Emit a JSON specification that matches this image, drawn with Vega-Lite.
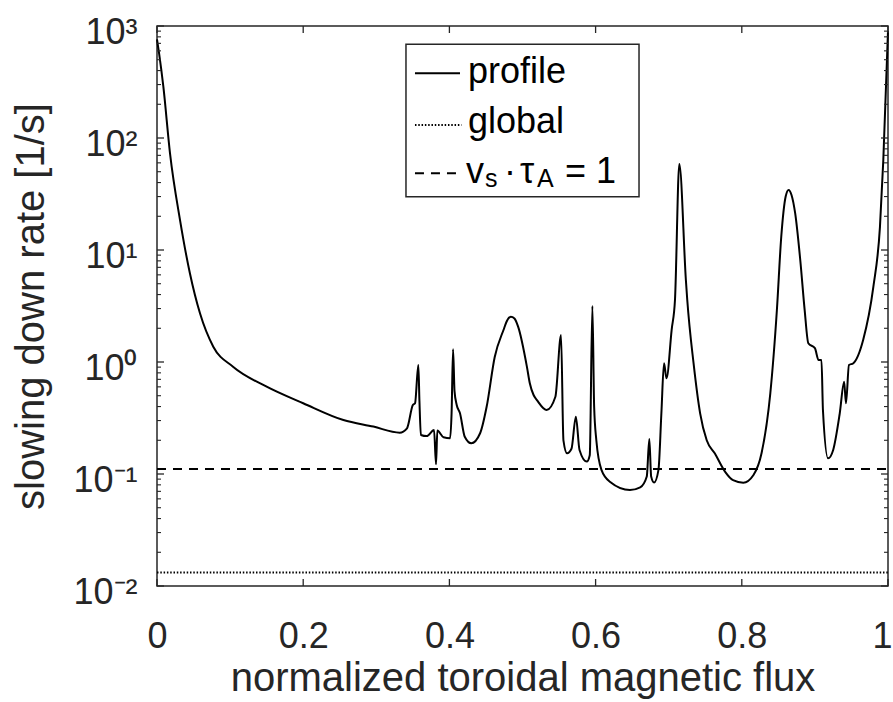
{
  "$schema": "https://vega.github.io/schema/vega-lite/v6.json",
  "width": 731,
  "height": 560,
  "autosize": {"type": "none"},
  "padding": {"left": 157, "top": 26, "right": 5, "bottom": 116},
  "config": {
    "view": {"stroke": "#262626", "strokeWidth": 1.5},
    "font": "Liberation Sans",
    "axis": {
      "grid": false,
      "domain": false,
      "labelFont": "Liberation Sans",
      "titleFont": "Liberation Sans",
      "labelColor": "#262626",
      "titleColor": "#262626",
      "titleFontWeight": "normal"
    }
  },
  "datasets": {
    "profile": [
      {"flux": 0.0, "rate": 760},
      {"flux": 0.003, "rate": 560},
      {"flux": 0.0087, "rate": 287},
      {"flux": 0.0178, "rate": 73},
      {"flux": 0.0315, "rate": 18.5},
      {"flux": 0.045, "rate": 6.2},
      {"flux": 0.0588, "rate": 2.72},
      {"flux": 0.077, "rate": 1.37},
      {"flux": 0.104, "rate": 0.908},
      {"flux": 0.15, "rate": 0.602},
      {"flux": 0.2, "rate": 0.428},
      {"flux": 0.255, "rate": 0.303},
      {"flux": 0.296, "rate": 0.265},
      {"flux": 0.332, "rate": 0.234},
      {"flux": 0.342, "rate": 0.256},
      {"flux": 0.35, "rate": 0.413},
      {"flux": 0.353, "rate": 0.428},
      {"flux": 0.3575, "rate": 0.94},
      {"flux": 0.359, "rate": 0.45},
      {"flux": 0.361, "rate": 0.223},
      {"flux": 0.369, "rate": 0.218},
      {"flux": 0.379, "rate": 0.247},
      {"flux": 0.3817, "rate": 0.122},
      {"flux": 0.3835, "rate": 0.244},
      {"flux": 0.392, "rate": 0.213},
      {"flux": 0.401, "rate": 0.209},
      {"flux": 0.403, "rate": 0.35},
      {"flux": 0.405, "rate": 1.3},
      {"flux": 0.407, "rate": 0.55},
      {"flux": 0.41, "rate": 0.413},
      {"flux": 0.4145, "rate": 0.348},
      {"flux": 0.421, "rate": 0.215},
      {"flux": 0.43, "rate": 0.188},
      {"flux": 0.442, "rate": 0.231},
      {"flux": 0.451, "rate": 0.4},
      {"flux": 0.462, "rate": 1.11},
      {"flux": 0.474, "rate": 1.93},
      {"flux": 0.479, "rate": 2.35},
      {"flux": 0.484, "rate": 2.54},
      {"flux": 0.489, "rate": 2.45},
      {"flux": 0.494, "rate": 2.07},
      {"flux": 0.506, "rate": 0.91},
      {"flux": 0.51, "rate": 0.646},
      {"flux": 0.515, "rate": 0.51},
      {"flux": 0.52, "rate": 0.455},
      {"flux": 0.533, "rate": 0.373},
      {"flux": 0.545, "rate": 0.49},
      {"flux": 0.5527, "rate": 1.74},
      {"flux": 0.556, "rate": 0.2},
      {"flux": 0.561, "rate": 0.153},
      {"flux": 0.567, "rate": 0.168},
      {"flux": 0.573, "rate": 0.325},
      {"flux": 0.578, "rate": 0.164},
      {"flux": 0.588, "rate": 0.129},
      {"flux": 0.592, "rate": 0.147},
      {"flux": 0.5956, "rate": 3.16},
      {"flux": 0.598, "rate": 0.4},
      {"flux": 0.601, "rate": 0.2},
      {"flux": 0.608, "rate": 0.109},
      {"flux": 0.62, "rate": 0.085},
      {"flux": 0.647, "rate": 0.072},
      {"flux": 0.661, "rate": 0.076},
      {"flux": 0.67, "rate": 0.095},
      {"flux": 0.6735, "rate": 0.205},
      {"flux": 0.676, "rate": 0.095},
      {"flux": 0.68, "rate": 0.084},
      {"flux": 0.686, "rate": 0.109},
      {"flux": 0.69, "rate": 0.35},
      {"flux": 0.6936, "rate": 0.975},
      {"flux": 0.697, "rate": 0.715},
      {"flux": 0.704, "rate": 1.93},
      {"flux": 0.7086, "rate": 3.6},
      {"flux": 0.7145, "rate": 58.6},
      {"flux": 0.7235, "rate": 5.4},
      {"flux": 0.7254, "rate": 3.58},
      {"flux": 0.734, "rate": 0.975},
      {"flux": 0.743, "rate": 0.348},
      {"flux": 0.752, "rate": 0.2},
      {"flux": 0.763, "rate": 0.153},
      {"flux": 0.777, "rate": 0.105},
      {"flux": 0.788, "rate": 0.088},
      {"flux": 0.802, "rate": 0.0836},
      {"flux": 0.816, "rate": 0.098},
      {"flux": 0.827, "rate": 0.153},
      {"flux": 0.839, "rate": 0.525},
      {"flux": 0.848, "rate": 2.91},
      {"flux": 0.854, "rate": 13.2},
      {"flux": 0.86, "rate": 30},
      {"flux": 0.864, "rate": 34.4},
      {"flux": 0.868, "rate": 31},
      {"flux": 0.873, "rate": 21.3},
      {"flux": 0.88, "rate": 8.1},
      {"flux": 0.886, "rate": 2.91},
      {"flux": 0.891, "rate": 1.47},
      {"flux": 0.9, "rate": 1.33},
      {"flux": 0.905, "rate": 1.04},
      {"flux": 0.909, "rate": 1.04},
      {"flux": 0.911, "rate": 0.373},
      {"flux": 0.918, "rate": 0.138},
      {"flux": 0.925, "rate": 0.164},
      {"flux": 0.934, "rate": 0.348},
      {"flux": 0.94, "rate": 0.667},
      {"flux": 0.9425, "rate": 0.428},
      {"flux": 0.9466, "rate": 0.94},
      {"flux": 0.9526, "rate": 0.975},
      {"flux": 0.966, "rate": 1.57},
      {"flux": 0.98, "rate": 4.7},
      {"flux": 0.989, "rate": 16.1},
      {"flux": 0.9936, "rate": 64},
      {"flux": 1.0, "rate": 900}
    ],
    "levels": [
      {"series": "global", "rate": 0.0132},
      {"series": "v_s τ_A = 1", "rate": 0.111}
    ],
    "ymajor": [
      {"rate": 0.01}, {"rate": 0.1}, {"rate": 1}, {"rate": 10}, {"rate": 100}, {"rate": 1000}
    ],
    "yminor": [
      {"rate": 0.02}, {"rate": 0.03}, {"rate": 0.04}, {"rate": 0.05}, {"rate": 0.06}, {"rate": 0.07}, {"rate": 0.08}, {"rate": 0.09},
      {"rate": 0.2}, {"rate": 0.3}, {"rate": 0.4}, {"rate": 0.5}, {"rate": 0.6}, {"rate": 0.7}, {"rate": 0.8}, {"rate": 0.9},
      {"rate": 2}, {"rate": 3}, {"rate": 4}, {"rate": 5}, {"rate": 6}, {"rate": 7}, {"rate": 8}, {"rate": 9},
      {"rate": 20}, {"rate": 30}, {"rate": 40}, {"rate": 50}, {"rate": 60}, {"rate": 70}, {"rate": 80}, {"rate": 90},
      {"rate": 200}, {"rate": 300}, {"rate": 400}, {"rate": 500}, {"rate": 600}, {"rate": 700}, {"rate": 800}, {"rate": 900}
    ],
    "xmajor": [
      {"flux": 0}, {"flux": 0.2}, {"flux": 0.4}, {"flux": 0.6}, {"flux": 0.8}, {"flux": 1}
    ]
  },
  "resolve": {"axis": {"x": "independent", "y": "independent"}},
  "layer": [
    {
      "data": {"name": "profile"},
      "mark": {"type": "line", "color": "#000000", "strokeWidth": 2, "interpolate": "monotone"},
      "encoding": {
        "x": {
          "field": "flux", "type": "quantitative",
          "scale": {"domain": [0, 1], "nice": false, "zero": false},
          "axis": {
            "orient": "bottom", "values": [0, 0.2, 0.4, 0.6, 0.8], "format": "~g",
            "ticks": false, "labelFontSize": 36, "labelPadding": 33, "labelFlush": false,
            "labelOverlap": false, "labelBound": false,
            "title": "normalized toroidal magnetic flux", "titleFontSize": 40,
            "titleX": 365.5, "titleY": 104, "titleBaseline": "alphabetic", "titleAlign": "center", "titleAngle": 0
          }
        },
        "y": {
          "field": "rate", "type": "quantitative",
          "scale": {"type": "log", "domain": [0.01, 1000], "nice": false},
          "axis": {
            "orient": "left", "values": [0.01, 0.1, 1, 10, 100, 1000],
            "labelExpr": "datum.value >= 500 ? '10³' : datum.value >= 50 ? '10²' : datum.value >= 5 ? '10¹' : datum.value >= 0.5 ? '10⁰' : datum.value >= 0.05 ? '10⁻¹' : '10⁻²'",
            "ticks": false, "labelFontSize": 36, "labelPadding": 20, "labelOffset": 6,
            "labelFlush": false, "labelOverlap": false, "labelBound": false,
            "title": "slowing down rate [1/s]", "titleFontSize": 40,
            "titleX": -114, "titleY": 280, "titleAngle": -90, "titleBaseline": "alphabetic", "titleAlign": "center"
          }
        }
      }
    },
    {
      "data": {"name": "levels"},
      "mark": {"type": "rule", "color": "#000000", "strokeWidth": 2},
      "encoding": {
        "x": {"datum": 0, "type": "quantitative", "scale": {"domain": [0, 1], "nice": false, "zero": false}, "axis": null},
        "x2": {"datum": 1},
        "y": {"field": "rate", "type": "quantitative", "scale": {"type": "log", "domain": [0.01, 1000], "nice": false}, "axis": null},
        "strokeDash": {"field": "series", "type": "nominal",
          "scale": {"domain": ["global", "v_s τ_A = 1"], "range": [[1.5, 1.8], [9, 7]]}, "legend": null}
      }
    },
    {
      "data": {"name": "ymajor"},
      "mark": {"type": "rule", "color": "#262626", "strokeWidth": 1.3},
      "encoding": {
        "x": {"datum": 0, "type": "quantitative", "scale": {"domain": [0, 1], "nice": false, "zero": false}, "axis": null},
        "x2": {"datum": 0.0096},
        "y": {"field": "rate", "type": "quantitative", "scale": {"type": "log", "domain": [0.01, 1000], "nice": false}, "axis": null}
      }
    },
    {
      "data": {"name": "ymajor"},
      "mark": {"type": "rule", "color": "#262626", "strokeWidth": 1.3},
      "encoding": {
        "x": {"datum": 1, "type": "quantitative", "scale": {"domain": [0, 1], "nice": false, "zero": false}, "axis": null},
        "x2": {"datum": 0.9904},
        "y": {"field": "rate", "type": "quantitative", "scale": {"type": "log", "domain": [0.01, 1000], "nice": false}, "axis": null}
      }
    },
    {
      "data": {"name": "yminor"},
      "mark": {"type": "rule", "color": "#262626", "strokeWidth": 1.1},
      "encoding": {
        "x": {"datum": 0, "type": "quantitative", "scale": {"domain": [0, 1], "nice": false, "zero": false}, "axis": null},
        "x2": {"datum": 0.0055},
        "y": {"field": "rate", "type": "quantitative", "scale": {"type": "log", "domain": [0.01, 1000], "nice": false}, "axis": null}
      }
    },
    {
      "data": {"name": "yminor"},
      "mark": {"type": "rule", "color": "#262626", "strokeWidth": 1.1},
      "encoding": {
        "x": {"datum": 1, "type": "quantitative", "scale": {"domain": [0, 1], "nice": false, "zero": false}, "axis": null},
        "x2": {"datum": 0.9945},
        "y": {"field": "rate", "type": "quantitative", "scale": {"type": "log", "domain": [0.01, 1000], "nice": false}, "axis": null}
      }
    },
    {
      "data": {"name": "xmajor"},
      "mark": {"type": "rule", "color": "#262626", "strokeWidth": 1.3},
      "encoding": {
        "x": {"field": "flux", "type": "quantitative", "scale": {"domain": [0, 1], "nice": false, "zero": false}, "axis": null},
        "y": {"datum": 0.01, "type": "quantitative", "scale": {"type": "log", "domain": [0.01, 1000], "nice": false}, "axis": null},
        "y2": {"datum": 0.01155}
      }
    },
    {
      "data": {"name": "xmajor"},
      "mark": {"type": "rule", "color": "#262626", "strokeWidth": 1.3},
      "encoding": {
        "x": {"field": "flux", "type": "quantitative", "scale": {"domain": [0, 1], "nice": false, "zero": false}, "axis": null},
        "y": {"datum": 1000, "type": "quantitative", "scale": {"type": "log", "domain": [0.01, 1000], "nice": false}, "axis": null},
        "y2": {"datum": 866}
      }
    },
    {
      "data": {"values": [{}]},
      "mark": {"type": "rect", "fill": "#ffffff", "stroke": "#262626", "strokeWidth": 1.5},
      "encoding": {
        "x": {"datum": 0.3406, "type": "quantitative", "scale": {"domain": [0, 1], "nice": false, "zero": false}, "axis": null},
        "x2": {"datum": 0.6594},
        "y": {"datum": 686.5, "type": "quantitative", "scale": {"type": "log", "domain": [0.01, 1000], "nice": false}, "axis": null},
        "y2": {"datum": 29.9}
      }
    },
    {
      "data": {"values": [{}]},
      "mark": {"type": "rule", "color": "#000000", "strokeWidth": 2},
      "encoding": {
        "x": {"datum": 0.3529, "type": "quantitative", "scale": {"domain": [0, 1], "nice": false, "zero": false},
          "axis": {"orient": "bottom", "values": [1], "format": "~g", "ticks": false, "labelFontSize": 36, "labelPadding": 33,
            "labelFlush": true, "labelFlushOffset": 4, "labelOverlap": false, "labelBound": false, "title": null}},
        "x2": {"datum": 0.4145},
        "y": {"datum": 378, "type": "quantitative", "scale": {"type": "log", "domain": [0.01, 1000], "nice": false}, "axis": null}
      }
    },
    {
      "data": {"values": [{}]},
      "mark": {"type": "rule", "color": "#000000", "strokeWidth": 1.8, "strokeDash": [1.5, 1.8]},
      "encoding": {
        "x": {"datum": 0.3529, "type": "quantitative", "scale": {"domain": [0, 1], "nice": false, "zero": false}, "axis": null},
        "x2": {"datum": 0.4166},
        "y": {"datum": 130.6, "type": "quantitative", "scale": {"type": "log", "domain": [0.01, 1000], "nice": false}, "axis": null}
      }
    },
    {
      "data": {"values": [{}]},
      "mark": {"type": "rule", "color": "#000000", "strokeWidth": 2, "strokeDash": [9, 7]},
      "encoding": {
        "x": {"datum": 0.3529, "type": "quantitative", "scale": {"domain": [0, 1], "nice": false, "zero": false}, "axis": null},
        "x2": {"datum": 0.4145},
        "y": {"datum": 48.4, "type": "quantitative", "scale": {"type": "log", "domain": [0.01, 1000], "nice": false}, "axis": null}
      }
    },
    {
      "data": {"values": [{}]},
      "mark": {"type": "text", "align": "left", "baseline": "alphabetic", "fontSize": 36, "font": "Liberation Sans", "color": "#000000"},
      "encoding": {
        "x": {"datum": 0.4254, "type": "quantitative", "scale": {"domain": [0, 1], "nice": false, "zero": false}, "axis": null},
        "y": {"datum": 307.8, "type": "quantitative", "scale": {"type": "log", "domain": [0.01, 1000], "nice": false}, "axis": null},
        "text": {"value": "profile"}
      }
    },
    {
      "data": {"values": [{}]},
      "mark": {"type": "text", "align": "left", "baseline": "alphabetic", "fontSize": 36, "font": "Liberation Sans", "color": "#000000"},
      "encoding": {
        "x": {"datum": 0.4254, "type": "quantitative", "scale": {"domain": [0, 1], "nice": false, "zero": false}, "axis": null},
        "y": {"datum": 110.2, "type": "quantitative", "scale": {"type": "log", "domain": [0.01, 1000], "nice": false}, "axis": null},
        "text": {"value": "global"}
      }
    },
    {
      "data": {"values": [{}]},
      "mark": {"type": "text", "align": "left", "baseline": "alphabetic", "fontSize": 36, "font": "Liberation Sans", "color": "#000000", "dx": -2},
      "encoding": {
        "x": {"datum": 0.4254, "type": "quantitative", "scale": {"domain": [0, 1], "nice": false, "zero": false}, "axis": null},
        "y": {"datum": 39.4, "type": "quantitative", "scale": {"type": "log", "domain": [0.01, 1000], "nice": false}, "axis": null},
        "text": {"value": "v"}
      }
    },
    {
      "data": {"values": [{}]},
      "mark": {"type": "text", "align": "left", "baseline": "alphabetic", "fontSize": 25, "font": "Liberation Sans", "color": "#000000", "dx": 17},
      "encoding": {
        "x": {"datum": 0.4254, "type": "quantitative", "scale": {"domain": [0, 1], "nice": false, "zero": false}, "axis": null},
        "y": {"datum": 36.7, "type": "quantitative", "scale": {"type": "log", "domain": [0.01, 1000], "nice": false}, "axis": null},
        "text": {"value": "s"}
      }
    },
    {
      "data": {"values": [{}]},
      "mark": {"type": "text", "align": "left", "baseline": "alphabetic", "fontSize": 36, "font": "Liberation Sans", "color": "#000000", "dx": 36},
      "encoding": {
        "x": {"datum": 0.4254, "type": "quantitative", "scale": {"domain": [0, 1], "nice": false, "zero": false}, "axis": null},
        "y": {"datum": 39.4, "type": "quantitative", "scale": {"type": "log", "domain": [0.01, 1000], "nice": false}, "axis": null},
        "text": {"value": "·"}
      }
    },
    {
      "data": {"values": [{}]},
      "mark": {"type": "text", "align": "left", "baseline": "alphabetic", "fontSize": 36, "font": "Liberation Sans", "color": "#000000", "dx": 52},
      "encoding": {
        "x": {"datum": 0.4254, "type": "quantitative", "scale": {"domain": [0, 1], "nice": false, "zero": false}, "axis": null},
        "y": {"datum": 39.4, "type": "quantitative", "scale": {"type": "log", "domain": [0.01, 1000], "nice": false}, "axis": null},
        "text": {"value": "τ"}
      }
    },
    {
      "data": {"values": [{}]},
      "mark": {"type": "text", "align": "left", "baseline": "alphabetic", "fontSize": 25, "font": "Liberation Sans", "color": "#000000", "dx": 69},
      "encoding": {
        "x": {"datum": 0.4254, "type": "quantitative", "scale": {"domain": [0, 1], "nice": false, "zero": false}, "axis": null},
        "y": {"datum": 36.7, "type": "quantitative", "scale": {"type": "log", "domain": [0.01, 1000], "nice": false}, "axis": null},
        "text": {"value": "A"}
      }
    },
    {
      "data": {"values": [{}]},
      "mark": {"type": "text", "align": "left", "baseline": "alphabetic", "fontSize": 36, "font": "Liberation Sans", "color": "#000000", "dx": 97},
      "encoding": {
        "x": {"datum": 0.4254, "type": "quantitative", "scale": {"domain": [0, 1], "nice": false, "zero": false}, "axis": null},
        "y": {"datum": 39.4, "type": "quantitative", "scale": {"type": "log", "domain": [0.01, 1000], "nice": false}, "axis": null},
        "text": {"value": "= 1"}
      }
    }
  ]
}
